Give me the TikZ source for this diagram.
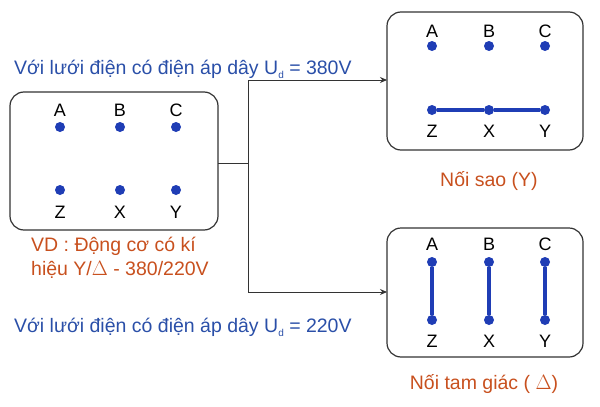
\documentclass[tikz,border=0pt]{standalone}
\usepackage{fontspec}
\setmainfont{Liberation Sans}
\usetikzlibrary{arrows.meta}
\definecolor{db}{HTML}{1F3DB5}
\definecolor{tb}{HTML}{2A4FA8}
\definecolor{or}{HTML}{C8501E}
\begin{document}
\begin{tikzpicture}[x=1pt,y=-1pt,
  box/.style={draw=black!80,line width=1.2pt,rounded corners=14pt},
  dot/.style={circle,fill=db,inner sep=0pt,minimum size=10pt},
  lbl/.style={font=\fontsize{18}{18}\selectfont,inner sep=0pt},
  olbl/.style={font=\fontsize{19.5}{20}\selectfont,inner sep=0pt,text=or},
  bar/.style={db,line width=4pt},
  conn/.style={black!80,line width=1pt},
  arr/.style={conn,-{Stealth[length=7pt,width=6pt]}},
  note/.style={font=\fontsize{19.5}{24}\selectfont,inner sep=0pt,anchor=west}]
\useasboundingbox (0,0) rectangle (600,407);
% boxes
\draw[box] (10,92) rectangle (218,230);
\node[coordinate] (L) at (218,163) {};
\draw[box] (387,12) rectangle (583,150);
\draw[box] (387,228) rectangle (583,357);
\node[coordinate] (T) at (387,80) {};
\node[coordinate] (B) at (387,292) {};
\node[coordinate] (j) at (248,163) {};
\node[coordinate] (jt) at (248,80) {};
\node[coordinate] (jb) at (248,292) {};
% left box
\foreach \n/\x/\t/\b in {a/60/A/Z,b/120/B/X,c/176/C/Y}{
  \node[lbl] at (\x,110) {\t};
  \node[dot] (l\n1) at (\x,127) {};
  \node[dot] (l\n2) at (\x,190) {};
  \node[lbl] at (\x,212) {\b};
}
% top right
\foreach \n/\x/\t/\b in {a/432/A/Z,b/489/B/X,c/545/C/Y}{
  \node[lbl] at (\x,31) {\t};
  \node[dot] (t\n1) at (\x,46) {};
  \node[dot] (t\n2) at (\x,110) {};
  \node[lbl] at (\x,131) {\b};
}
\draw[bar] (ta2) -- (tb2) -- (tc2);
% bottom right
\foreach \n/\x/\t/\b in {a/432/A/Z,b/489/B/X,c/545/C/Y}{
  \node[lbl] at (\x,244) {\t};
  \node[dot] (b\n1) at (\x,262) {};
  \node[dot] (b\n2) at (\x,320) {};
  \node[lbl] at (\x,341) {\b};
  \draw[bar] (b\n1) -- (b\n2);
}
% connectors
\draw[conn] (L) -- (j);
\draw[conn] (jb) -- (jt);
\draw[arr] (jt) -- (T);
\draw[arr] (jb) -- (B);
% texts
\node[note,text=tb] at (14,69) {Với lưới điện có điện áp dây U\raisebox{-0.4ex}{\fontsize{10}{10}\selectfont d} = 380V};
\node[note,text=tb] at (14,327) {Với lưới điện có điện áp dây U\raisebox{-0.4ex}{\fontsize{10}{10}\selectfont d} = 220V};
\node[olbl] at (489,181) {Nối sao (Y)};
\node[olbl] at (484,384) {Nối tam giác ( $\Delta$)};
\node[note,text=or] at (31,246) {VD : Động cơ có kí};
\node[note,text=or] at (31,270) {hiệu Y/$\Delta$ - 380/220V};
\end{tikzpicture}
\end{document}
